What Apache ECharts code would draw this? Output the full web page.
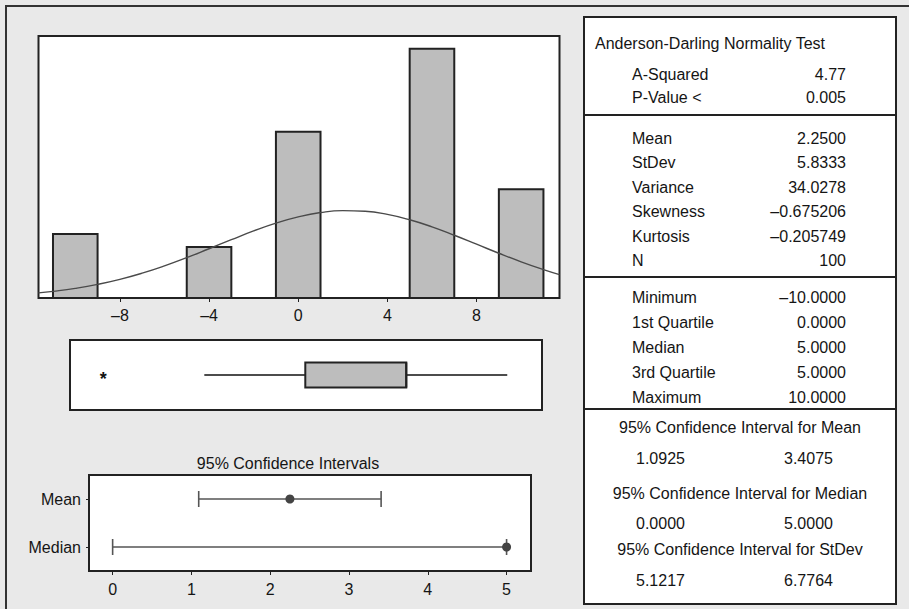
<!DOCTYPE html>
<html><head><meta charset="utf-8">
<script src="https://cdn.jsdelivr.net/npm/echarts@6/dist/echarts.min.js"></script>
<style>html,body{margin:0;padding:0;background:#e9e9e9;}#c{width:909px;height:609px;}</style>
</head><body><div id="c"></div>
<script>
// ---------- data ----------
const binLow = [-11, -5, -1, 5, 9];
const binHigh = [-9, -3, 1, 7, 11];
const binCounts = [10, 8, 26, 39, 17];
const curveX = [-11.65, -11, -10, -9, -8, -7, -6, -5, -4, -3, -2, -1, 0, 1, 2, 3, 4, 5, 6, 7, 8, 9, 10, 11, 11.72];
const curveY = [0.80, 1.04, 1.51, 2.13, 2.92, 3.89, 5.03, 6.32, 7.71, 9.12, 10.49, 11.71, 12.70, 13.37, 13.67, 13.57, 13.08, 12.24, 11.13, 9.82, 8.42, 7.00, 5.66, 4.44, 3.66];
const histTicks = [-8, -4, 0, 4, 8];
const boxStats = [-5, 0, 5, 5, 10]; // lower whisker, Q1, median, Q3, upper whisker
const boxOutliers = [-10];
const ciLabels = ['Mean', 'Median'];
const ciLow = [1.0925, 0.0];
const ciHigh = [3.4075, 5.0];
const ciPoint = [2.25, 5.0];
const ciTicks = [0, 1, 2, 3, 4, 5];
const ciChartTitle = '95% Confidence Intervals';

const adTitle = 'Anderson-Darling Normality Test';
const adLabels = ['A-Squared', 'P-Value <'];
const adValues = ['4.77', '0.005'];
const descLabels = ['Mean', 'StDev', 'Variance', 'Skewness', 'Kurtosis', 'N'];
const descValues = ['2.2500', '5.8333', '34.0278', '\u20130.675206', '\u20130.205749', '100'];
const quantLabels = ['Minimum', '1st Quartile', 'Median', '3rd Quartile', 'Maximum'];
const quantValues = ['\u201310.0000', '0.0000', '5.0000', '5.0000', '10.0000'];
const ciTitles = ['95% Confidence Interval for Mean', '95% Confidence Interval for Median', '95% Confidence Interval for StDev'];
const ciLowText = ['1.0925', '0.0000', '5.1217'];
const ciHighText = ['3.4075', '5.0000', '6.7764'];

// ---------- styling ----------
const FF = '"Liberation Sans", Arial, Helvetica, sans-serif';
const INK = '#151515';
const FONT = '16px ' + FF;

function txt(text, x, y, align) {
  return {
    type: 'text', z: 20,
    style: { text: text, x: x, y: y, font: FONT, fill: INK,
      textAlign: align || 'left', textVerticalAlign: 'middle',
      align: align || 'left', verticalAlign: 'middle' }
  };
}
function hline(x1, x2, y) {
  return { type: 'line', z: 20, shape: { x1: x1, y1: y, x2: x2, y2: y }, style: { stroke: '#222', lineWidth: 2 } };
}

const T_L = 584, T_R = 896, T_T = 17, T_B = 604;
const labX = 632, valX = 846;
const g = [];
g.push({ type: 'rect', z: 0, shape: { x: 6, y: 6, width: 1000, height: 1000 }, style: { fill: 'none', stroke: '#333', lineWidth: 2 } });
g.push({ type: 'rect', z: 19, shape: { x: T_L, y: T_T, width: T_R - T_L, height: T_B - T_T }, style: { fill: '#fff', stroke: '#222', lineWidth: 2 } });
g.push(txt(adTitle, 595, 43));
adLabels.forEach((l, i) => { const y = [74, 97][i]; g.push(txt(l, labX, y)); g.push(txt(adValues[i], valX, y, 'right')); });
g.push(hline(T_L, T_R, 115));
descLabels.forEach((l, i) => { const y = 138 + i * 24.5; g.push(txt(l, labX, y)); g.push(txt(descValues[i], valX, y, 'right')); });
g.push(hline(T_L, T_R, 277));
quantLabels.forEach((l, i) => { const y = 297 + i * 25; g.push(txt(l, labX, y)); g.push(txt(quantValues[i], valX, y, 'right')); });
g.push(hline(T_L, T_R, 409));
const ciTY = [427, 493, 549], ciVY = [458, 523, 580];
ciTitles.forEach((t, i) => {
  g.push(txt(t, (T_L + T_R) / 2, ciTY[i], 'center'));
  g.push(txt(ciLowText[i], 636, ciVY[i]));
  g.push(txt(ciHighText[i], 784, ciVY[i]));
});
g.push(txt(ciChartTitle, 288, 463, 'center'));

// ---------- chart ----------
const chart = echarts.init(document.getElementById('c'), null, { renderer: 'svg' });
const dash = v => String(v).replace('-', '\u2013');
const gridStyle = { show: true, backgroundColor: '#fff', borderColor: '#222', borderWidth: 2, outerBoundsMode: 'none', containLabel: false };
const XMIN = -11.65, XMAX = 11.72;

const histData = binLow.map((l, i) => [l, binHigh[i], binCounts[i]]);
const curveData = curveX.map((x, i) => [x, curveY[i]]);
const ciData = ciLabels.map((c, i) => [ciLow[i], ciHigh[i], ciPoint[i], i]);

chart.setOption({
  animation: false,
  backgroundColor: '#e9e9e9',
  textStyle: { fontFamily: FF },
  graphic: { elements: g },
  grid: [
    Object.assign({ left: 38.5, top: 36, width: 521, height: 262 }, gridStyle),
    Object.assign({ left: 70, top: 340, width: 472, height: 70 }, gridStyle),
    Object.assign({ left: 89, top: 475, width: 442, height: 96 }, gridStyle)
  ],
  xAxis: [
    { gridIndex: 0, type: 'value', min: XMIN, max: XMAX,
      axisLine: { show: false, onZero: false }, splitLine: { show: false },
      axisTick: { show: true, customValues: histTicks, length: 4, lineStyle: { color: '#222' } },
      axisLabel: { customValues: histTicks, formatter: dash, fontSize: 16, color: INK, fontFamily: FF, margin: 9 } },
    { gridIndex: 1, type: 'value', min: XMIN, max: XMAX, show: false },
    { gridIndex: 2, type: 'value', min: -0.3, max: 5.31,
      axisLine: { show: false, onZero: false }, splitLine: { show: false },
      axisTick: { show: true, customValues: ciTicks, length: 4, lineStyle: { color: '#222' } },
      axisLabel: { customValues: ciTicks, fontSize: 16, color: INK, fontFamily: FF, margin: 10 } }
  ],
  yAxis: [
    { gridIndex: 0, type: 'value', min: 0, max: 41, show: false },
    { gridIndex: 1, type: 'category', data: [''], show: false },
    { gridIndex: 2, type: 'category', data: ciLabels, inverse: true,
      axisLine: { show: false, onZero: false },
      axisTick: { show: true, alignWithLabel: true, length: 3, lineStyle: { color: '#222' } },
      axisLabel: { fontSize: 16, color: INK, fontFamily: FF, margin: 8 } }
  ],
  series: [
    { type: 'custom', xAxisIndex: 0, yAxisIndex: 0, data: histData, z: 2,
      renderItem: function (params, api) {
        const p0 = api.coord([api.value(0), api.value(2)]);
        const p1 = api.coord([api.value(1), 0]);
        return { type: 'rect', shape: { x: p0[0], y: p0[1], width: p1[0] - p0[0], height: p1[1] - p0[1] },
          style: { fill: '#bdbdbd', stroke: '#222', lineWidth: 2 } };
      } },
    { type: 'line', xAxisIndex: 0, yAxisIndex: 0, data: curveData, smooth: true, symbol: 'none', z: 5,
      lineStyle: { color: '#4a4a4a', width: 1.4 } },
    { type: 'custom', xAxisIndex: 1, yAxisIndex: 1, data: [boxStats.concat([0])], z: 3,
      renderItem: function (params, api) {
        const yi = api.value(5);
        const a = api.coord([api.value(0), yi]), b = api.coord([api.value(1), yi]);
        const c = api.coord([api.value(2), yi]), d = api.coord([api.value(3), yi]);
        const e = api.coord([api.value(4), yi]);
        const y = a[1], h = 12.5;
        const ls = { stroke: '#111', lineWidth: 1.6 };
        return { type: 'group', children: [
          { type: 'line', shape: { x1: a[0], y1: y, x2: b[0], y2: y }, style: ls },
          { type: 'line', shape: { x1: d[0], y1: y, x2: e[0], y2: y }, style: ls },
          { type: 'rect', shape: { x: b[0], y: y - h, width: d[0] - b[0], height: 2 * h }, style: { fill: '#bdbdbd', stroke: '#222', lineWidth: 2 } },
          { type: 'line', shape: { x1: c[0], y1: y - h, x2: c[0], y2: y + h }, style: { stroke: '#222', lineWidth: 2 } }
        ] };
      } },
    { type: 'custom', xAxisIndex: 1, yAxisIndex: 1, data: boxOutliers.map(v => [v, 0]), z: 4,
      renderItem: function (params, api) {
        const p = api.coord([api.value(0), api.value(1)]);
        return { type: 'text', style: { text: '*', x: p[0], y: p[1] + 4, font: 'bold 18px ' + FF, fill: '#111',
          textAlign: 'center', textVerticalAlign: 'middle', align: 'center', verticalAlign: 'middle' } };
      } },
    { type: 'custom', xAxisIndex: 2, yAxisIndex: 2, data: ciData, z: 3,
      renderItem: function (params, api) {
        const ci = api.value(3);
        const lo = api.coord([api.value(0), ci]), hi = api.coord([api.value(1), ci]), pt = api.coord([api.value(2), ci]);
        const y = lo[1], cap = 8;
        const ls = { stroke: '#555', lineWidth: 1.6 };
        return { type: 'group', children: [
          { type: 'line', shape: { x1: lo[0], y1: y, x2: hi[0], y2: y }, style: ls },
          { type: 'line', shape: { x1: lo[0], y1: y - cap, x2: lo[0], y2: y + cap }, style: ls },
          { type: 'line', shape: { x1: hi[0], y1: y - cap, x2: hi[0], y2: y + cap }, style: ls },
          { type: 'circle', shape: { cx: pt[0], cy: y, r: 4.5 }, style: { fill: '#444' } }
        ] };
      } }
  ]
});
</script></body></html>
